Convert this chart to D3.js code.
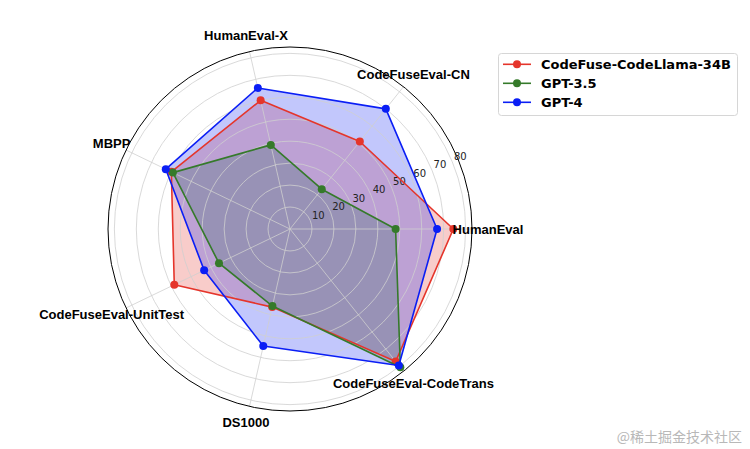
<!DOCTYPE html>
<html>
<head>
<meta charset="utf-8">
<script src="https://cdn.jsdelivr.net/npm/d3@7"></script>
<style>
  html, body { margin: 0; padding: 0; background: #fff; }
  svg { display: block; }
</style>
</head>
<body>
<svg id="chart" width="750" height="449"></svg>
<script>
// ---- data ----
const categories = ["HumanEval", "CodeFuseEval-CN", "HumanEval-X", "MBPP",
  "CodeFuseEval-UnitTest", "DS1000", "CodeFuseEval-CodeTrans"];
const seriesNames = ["CodeFuse-CodeLlama-34B", "GPT-3.5", "GPT-4"];
const codeFuseValues = [74.4, 51.0, 60.1, 60.0, 58.5, 36.5, 77.2];
const gpt35Values    = [48.1, 23.2, 39.3, 59.2, 35.9, 36.0, 80.6];
const gpt4Values     = [67.0, 70.0, 65.9, 62.8, 43.4, 54.7, 79.5];
const radialTicks = [10, 20, 30, 40, 50, 60, 70, 80];
const rMax = 82.9;

const colors = ["#e5352b", "#357a2a", "#0a1ef5"];
const seriesValues = [codeFuseValues, gpt35Values, gpt4Values];

// ---- layout ----
const cx = 290, cy = 229, outerR = 182, labelR = 198;
const svg = d3.select("#chart");
const g = svg.append("g").attr("transform", `translate(${cx},${cy})`);

const r = d3.scaleLinear().domain([0, rMax]).range([0, outerR]);
const n = categories.length;
// math angle (CCW from east) -> d3 radial angle (CW from north)
const theta = d3.scaleLinear().domain([0, n]).range([0, 2 * Math.PI]);
const d3Angle = i => Math.PI / 2 - theta(i);
const px = (i, v) => r(v) * Math.cos(theta(i));
const py = (i, v) => -r(v) * Math.sin(theta(i));

const radialLine = d3.lineRadial()
  .angle((d, i) => d3Angle(i))
  .radius(d => r(d))
  .curve(d3.curveLinearClosed);

// fills (below grid)
const fills = g.append("g");
seriesValues.forEach((vals, s) => {
  fills.append("path")
    .attr("d", radialLine(vals))
    .attr("fill", colors[s])
    .attr("fill-opacity", 0.25)
    .attr("stroke", "none");
});

// grid
const grid = g.append("g");
radialTicks.forEach(t => {
  grid.append("circle").attr("r", r(t))
    .attr("fill", "none").attr("stroke", "#cfcfcf").attr("stroke-width", 0.8);
});
d3.range(n).forEach(i => {
  grid.append("line")
    .attr("x1", 0).attr("y1", 0)
    .attr("x2", px(i, rMax)).attr("y2", py(i, rMax))
    .attr("stroke", "#cfcfcf").attr("stroke-width", 0.8);
});
grid.append("circle").attr("r", r(rMax))
  .attr("fill", "none").attr("stroke", "#000").attr("stroke-width", 1);

// radial tick labels at 22.5 deg
const tickAng = 22.5 * Math.PI / 180;
g.append("g").selectAll("text").data(radialTicks).join("text")
  .attr("x", d => r(d) * Math.cos(tickAng) + 8)
  .attr("y", d => -r(d) * Math.sin(tickAng) - 5.6)
  .attr("text-anchor", "middle")
  .attr("dominant-baseline", "central")
  .attr("font-family", "DejaVu Sans")
  .attr("font-size", 10)
  .attr("fill", "#222")
  .text(d => d);

// lines + markers
const lines = g.append("g");
seriesValues.forEach((vals, s) => {
  lines.append("path")
    .attr("d", radialLine(vals))
    .attr("fill", "none")
    .attr("stroke", colors[s])
    .attr("stroke-width", 1.6)
    .attr("stroke-linejoin", "round");
  lines.append("g").selectAll("circle").data(vals).join("circle")
    .attr("cx", (d, i) => px(i, d))
    .attr("cy", (d, i) => py(i, d))
    .attr("r", 4)
    .attr("fill", colors[s]);
});

// category labels
g.append("g").selectAll("text").data(categories).join("text")
  .attr("x", (d, i) => labelR * Math.cos(theta(i)))
  .attr("y", (d, i) => -labelR * Math.sin(theta(i)))
  .attr("text-anchor", "middle")
  .attr("dominant-baseline", "central")
  .attr("font-family", "Liberation Sans, Arial, sans-serif")
  .attr("font-weight", "bold")
  .attr("font-size", 13)
  .attr("fill", "#000")
  .text(d => d);

// legend
const lg = svg.append("g").attr("transform", "translate(498,53)");
lg.append("rect").attr("x", 0.5).attr("y", 0.5).attr("width", 239).attr("height", 62)
  .attr("rx", 3).attr("fill", "#fff").attr("fill-opacity", 0.8)
  .attr("stroke", "#d6d6d6").attr("stroke-width", 1);
seriesNames.forEach((name, s) => {
  const y = 11.3 + s * 19;
  lg.append("line").attr("x1", 5).attr("x2", 33).attr("y1", y).attr("y2", y)
    .attr("stroke", colors[s]).attr("stroke-width", 1.6);
  lg.append("circle").attr("cx", 19).attr("cy", y).attr("r", 4).attr("fill", colors[s]);
  lg.append("text").attr("x", 43).attr("y", y)
    .attr("dominant-baseline", "central")
    .attr("font-family", "DejaVu Sans").attr("font-weight", "bold")
    .attr("font-size", 13).attr("fill", "#000")
    .text(name);
});

// watermark
svg.append("text").attr("x", 742).attr("y", 436)
  .attr("text-anchor", "end")
  .attr("dominant-baseline", "central")
  .attr("font-family", "Noto Sans CJK SC")
  .attr("font-size", 14)
  .attr("fill", "#b8b8b8")
  .text("@稀土掘金技术社区");
</script>
</body>
</html>
